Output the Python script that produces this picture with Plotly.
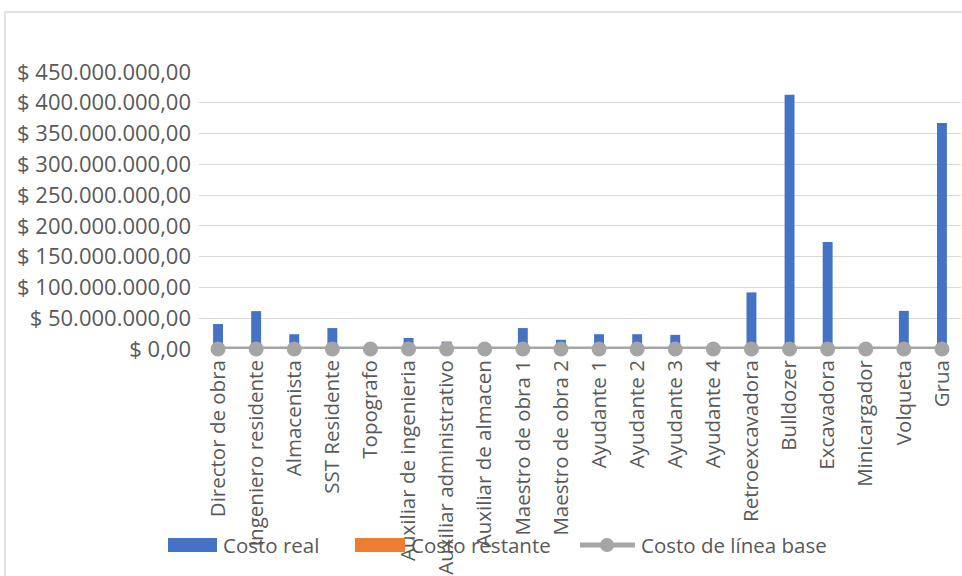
import plotly.graph_objects as go

categories = ["Director de obra", "Ingeniero residente", "Almacenista", "SST Residente",
              "Topografo", "Auxiliar de ingenieria", "Auxiliar administrativo",
              "Auxiliar de almacen", "Maestro de obra 1", "Maestro de obra 2",
              "Ayudante 1", "Ayudante 2", "Ayudante 3", "Ayudante 4",
              "Retroexcavadora", "Bulldozer", "Excavadora", "Minicargador",
              "Volqueta", "Grua"]
costo_real = [40.5e6, 61.5e6, 24e6, 34e6, 0, 18e6, 12e6, 0, 34e6, 15e6,
              24e6, 24e6, 23e6, 4e6, 92e6, 413e6, 174e6, 0, 62e6, 367e6]
costo_restante = [0] * 20
costo_linea_base = [0] * 20
tick_vals = [0, 50e6, 100e6, 150e6, 200e6, 250e6, 300e6, 350e6, 400e6, 450e6]
tick_text = ["$ 0,00", "$ 50.000.000,00", "$ 100.000.000,00", "$ 150.000.000,00",
             "$ 200.000.000,00", "$ 250.000.000,00", "$ 300.000.000,00",
             "$ 350.000.000,00", "$ 400.000.000,00", "$ 450.000.000,00"]
legend_names = ["Costo real", "Costo restante", "Costo de línea base"]

FONT = "Open Sans"
FS = 20.5
YFS = 22
TXT = "#595959"
BLUE, ORANGE, GREY = "#4472C4", "#ED7D31", "#A5A5A5"

L, R, T, B = 199, 1, 72, 227
pw, ph = 962 - L - R, 576 - T - B


def px(xp):
    return (xp - L) / pw


def py(yp):
    return (576 - B - yp) / ph


fig = go.Figure()
fig.add_trace(go.Bar(x=categories, y=costo_real, name=legend_names[0],
                     marker=dict(color=BLUE, line=dict(width=0)), width=0.26,
                     showlegend=False))
fig.add_trace(go.Bar(x=categories, y=costo_restante, name=legend_names[1],
                     marker=dict(color=ORANGE, line=dict(width=0)), width=0.26,
                     showlegend=False))
fig.add_trace(go.Scatter(x=categories, y=costo_linea_base, name=legend_names[2],
                         mode="lines+markers", cliponaxis=False,
                         line=dict(color=GREY, width=5),
                         marker=dict(color=GREY, size=15),
                         showlegend=False))

shapes = [dict(type="rect", xref="paper", yref="paper",
               x0=px(5), x1=px(980), y0=py(600), y1=py(12),
               line=dict(color="#D9D9D9", width=1.5), fillcolor="rgba(0,0,0,0)",
               layer="below")]
# custom legend
ly = 545
shapes.append(dict(type="rect", xref="paper", yref="paper", x0=px(168), x1=px(217),
                   y0=py(552), y1=py(538), fillcolor=BLUE, line=dict(width=0)))
shapes.append(dict(type="rect", xref="paper", yref="paper", x0=px(355), x1=px(405),
                   y0=py(552), y1=py(538), fillcolor=ORANGE, line=dict(width=0)))
shapes.append(dict(type="line", xref="paper", yref="paper", x0=px(580), x1=px(635),
                   y0=py(ly), y1=py(ly), line=dict(color=GREY, width=5)))
shapes.append(dict(type="circle", xref="paper", yref="paper", x0=px(600), x1=px(614),
                   y0=py(ly + 7), y1=py(ly - 7), fillcolor=GREY, line=dict(width=0)))

annotations = []
for xpix, name in zip([221, 409, 639], legend_names):
    annotations.append(dict(xref="paper", yref="paper", x=px(xpix), y=py(ly),
                            text=name, showarrow=False, xanchor="left", yanchor="middle",
                            font=dict(family=FONT, size=FS, color=TXT)))

fig.update_layout(
    width=962, height=576,
    margin=dict(l=L, r=R, t=T, b=B, autoexpand=False),
    barmode="overlay",
    plot_bgcolor="white", paper_bgcolor="white",
    font=dict(family=FONT, size=FS, color=TXT),
    showlegend=False,
    xaxis=dict(type="category", tickangle=-90, showgrid=False, showline=False,
               ticks="", automargin=False, range=[-0.5, 19.5],
               ticklabelstandoff=6,
               tickfont=dict(family=FONT, size=FS, color=TXT)),
    yaxis=dict(range=[0, 450e6], tickvals=tick_vals, ticktext=tick_text,
               showgrid=True, gridcolor="#D9D9D9", gridwidth=1,
               zeroline=False, showline=False, ticks="", automargin=False,
               ticklabelstandoff=7,
               tickfont=dict(family=FONT, size=YFS, color=TXT)),
    shapes=shapes,
    annotations=annotations,
)

fig.write_html("out.html")
